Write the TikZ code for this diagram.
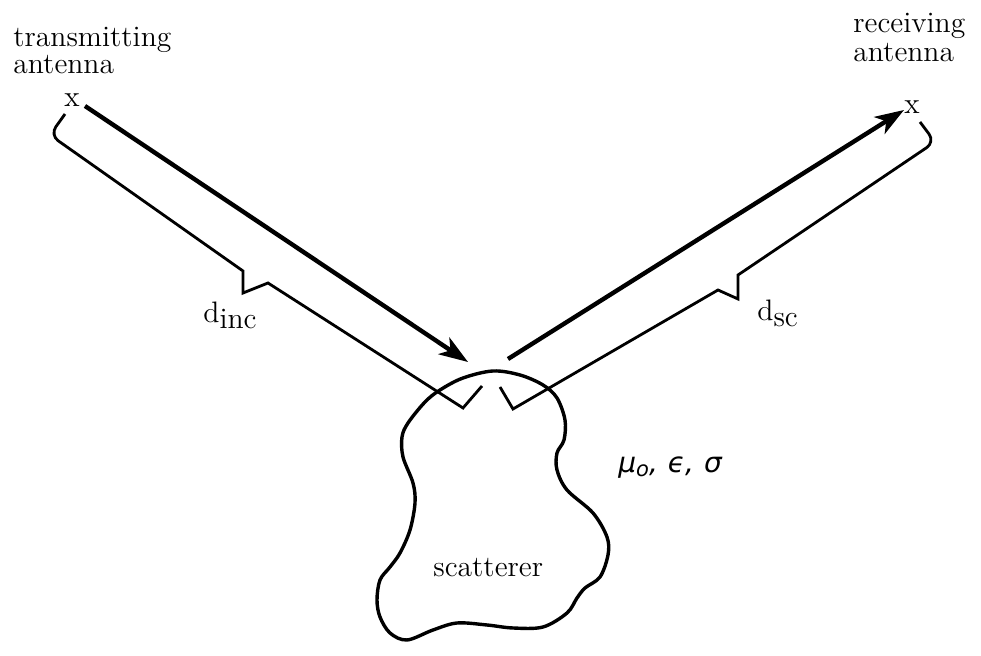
\documentclass[tikz,border=0pt]{standalone}
\usepackage{fontspec}
\newfontfamily\symfont{DejaVu Sans}
\usetikzlibrary{arrows.meta}

\tikzset{
  label text/.style={inner sep=0pt, font=\fontsize{14.8}{16}\selectfont},
  mark text/.style={inner sep=0pt, font=\fontsize{14.8}{16}\selectfont},
  path arrow/.style={line width=2.2pt, -{Stealth[length=14.5pt,width=10pt,inset=4pt]}},
  brace line/.style={line width=1.4pt, line join=miter},
  body line/.style={line width=1.7pt}
}

\begin{document}
\begin{tikzpicture}[x=0.5pt, y=-0.5pt]
  \useasboundingbox (0,0) rectangle (981,656);

  % antenna labels
  \node[label text, anchor=base west] (txl1) at (13,47) {transmitting};
  \node[label text, anchor=base west] (txl2) at (13,74) {antenna};
  \node[label text, anchor=base west] (rxl1) at (853,33) {receiving};
  \node[label text, anchor=base west] (rxl2) at (853,62) {antenna};

  % antenna positions
  \node[mark text, anchor=base] (tx) at (72,107) {x};
  \node[mark text, anchor=base] (rx) at (912,114) {x};

  % arrow end points
  \coordinate (txstart) at (85,106);
  \coordinate (txend) at (468,362);
  \coordinate (rxstart) at (508,359);
  \coordinate (rxend) at (904,110);

  % incident and scattered paths
  \draw[path arrow] (txstart) -- (txend);
  \draw[path arrow] (rxstart) -- (rxend);

  % distance braces
  \draw[brace line] (65,114) [rounded corners=5pt] -- (50,135) [sharp corners] -- (243,271)
        -- (243,293) -- (268,283) -- (463,408) -- (482,386);
  \draw[brace line] (920,122) [rounded corners=5pt] -- (935,142) [sharp corners] -- (738,275)
        -- (738,299) -- (718,290) -- (513,409) -- (500,387);

  % distance labels
  \node[label text, anchor=base west] (dinc) at (203,323) {d\lower3pt\hbox{inc}};
  \node[label text, anchor=base west] (dsc) at (757,321) {d\lower3pt\hbox{sc}};

  % scattering body
  \draw[body line] plot[smooth cycle, tension=0.55] coordinates {
    (493,371) (520,375) (543,385) (557,398) (565,420) (564,440) (557,453)
    (557,470) (567,490) (593,513) (607,537) (608,555) (600,577) (585,588)
    (577,598) (567,613) (543,627) (513,628) (487,625) (457,623) (433,630)
    (407,640) (390,633) (380,617) (377,600) (380,580) (390,567) (400,553)
    (410,530) (415,503) (413,483) (403,457) (402,437) (408,423) (425,402)
    (440,390) (463,378)};

  \node[label text, anchor=base west] (body) at (433,577) {scatterer};

  % medium parameters
  \node[inner sep=0pt, anchor=base west, font=\symfont\itshape\fontsize{14}{16}\selectfont]
    (medium) at (618,473) {μ\lower2pt\hbox{\fontsize{10.5}{12}\selectfont o},\hspace{5pt}ϵ,\hspace{5pt}σ};
\end{tikzpicture}
\end{document}
